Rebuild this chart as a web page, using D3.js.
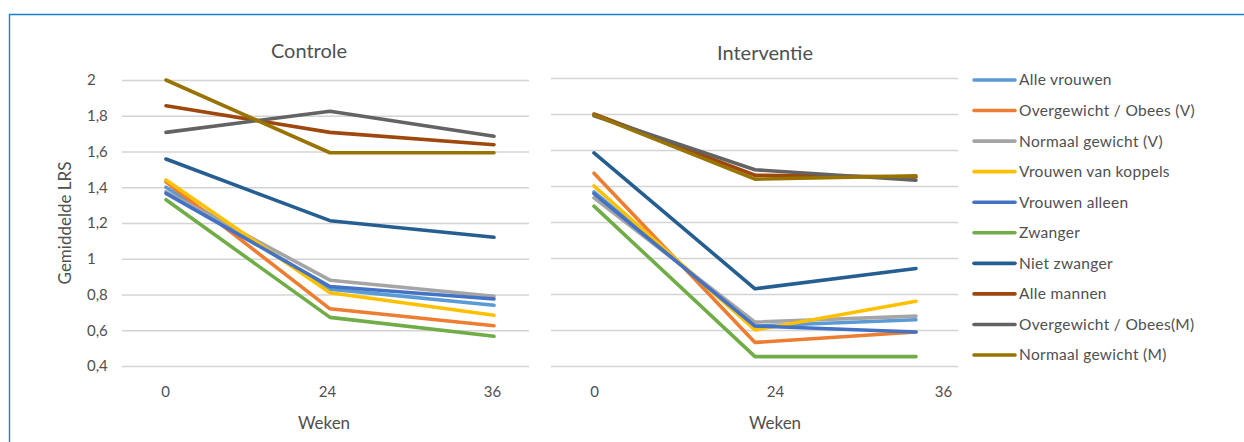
<!DOCTYPE html>
<html>
<head>
<meta charset="utf-8">
<script src="https://cdn.jsdelivr.net/npm/d3@7"></script>
<style>
  html, body { margin: 0; padding: 0; background: #fff; }
  svg { display: block; font-family: Lato, "Open Sans", sans-serif; }
</style>
</head>
<body>
<svg id="chart" width="1244" height="442"></svg>
<script>
// ---- data ----
const categories = ["0", "24", "36"];
const seriesNames = [
  "Alle vrouwen",
  "Overgewicht / Obees (V)",
  "Normaal gewicht (V)",
  "Vrouwen van koppels",
  "Vrouwen alleen",
  "Zwanger",
  "Niet zwanger",
  "Alle mannen",
  "Overgewicht / Obees(M)",
  "Normaal gewicht (M)"
];
const seriesColors = ["#5B9BD5", "#ED7D31", "#A5A5A5", "#FFC000", "#4472C4",
                      "#70AD47", "#255E91", "#9E480E", "#636363", "#997300"];
const controleValues = [
  [1.40, 0.83, 0.74],
  [1.43, 0.72, 0.625],
  [1.375, 0.88, 0.79],
  [1.44, 0.81, 0.684],
  [1.366, 0.845, 0.775],
  [1.33, 0.672, 0.566],
  [1.558, 1.213, 1.12],
  [1.856, 1.707, 1.638],
  [1.707, 1.825, 1.685],
  [2.0, 1.593, 1.593]
];
const interventieValues = [
  [1.367, 0.622, 0.657],
  [1.471, 0.531, 0.589],
  [1.334, 0.644, 0.677],
  [1.40, 0.60, 0.76],
  [1.358, 0.622, 0.589],
  [1.288, 0.452, 0.452],
  [1.584, 0.829, 0.942],
  [1.80, 1.46, 1.45],
  [1.79, 1.49, 1.432],
  [1.795, 1.438, 1.456]
];
const yTickValues = [0.4, 0.6, 0.8, 1.0, 1.2, 1.4, 1.6, 1.8, 2.0];
const yTickLabels = ["0,4", "0,6", "0,8", "1", "1,2", "1,4", "1,6", "1,8", "2"];
const panelTitles = ["Controle", "Interventie"];
const xAxisTitle = "Weken";
const yAxisTitle = "Gemiddelde LRS";

// ---- layout ----
const svg = d3.select("#chart");
const textColor = "#505050";

// frame
svg.append("path")
  .attr("d", "M9.5,442 V14.5 H1244")
  .attr("fill", "none")
  .attr("stroke", "#1A7FD1")
  .attr("stroke-width", 1.4);

const panels = [
  { title: panelTitles[0], values: controleValues,
    gx: [122, 529], px: [166, 494], yr: [366, 80], labelX: [165, 327, 492],
    titleX: 309, titleY: 58, wekenX: 324 },
  { title: panelTitles[1], values: interventieValues,
    gx: [551, 958], px: [594, 916], yr: [366, 78], labelX: [594, 775, 943],
    titleX: 765, titleY: 60, wekenX: 775 }
];

const line = (x, y) => d3.line().x((d, i) => x(categories[i])).y(d => y(d));

panels.forEach((p, pi) => {
  const y = d3.scaleLinear().domain([0.4, 2.0]).range(p.yr);
  const x = d3.scalePoint().domain(categories).range(p.px);
  const xLab = d3.scaleOrdinal().domain(categories).range(p.labelX);

  // gridlines
  const grid = svg.append("g")
    .attr("transform", `translate(${p.gx[0]},0)`)
    .call(d3.axisRight(y).tickValues(yTickValues).tickSize(p.gx[1] - p.gx[0]).tickFormat(""));
  grid.select(".domain").remove();
  grid.selectAll("line").attr("stroke", "#D4D4D4").attr("stroke-width", 1.6);

  // y tick labels (left panel only)
  if (pi === 0) {
    const ya = svg.append("g")
      .attr("transform", "translate(87,0)")
      .call(d3.axisLeft(y).tickValues(yTickValues).tickSize(0).tickPadding(0)
        .tickFormat((d, i) => yTickLabels[i]));
    ya.select(".domain").remove();
    ya.selectAll("text")
      .attr("x", 0)
      .attr("text-anchor", "start")
      .attr("fill", textColor)
      .style("font-size", "15px")
      .style("font-family", "Lato, sans-serif");
  }

  // x tick labels
  const xa = svg.append("g")
    .attr("transform", "translate(0,386)")
    .call(d3.axisBottom(xLab).tickSize(0).tickPadding(0));
  xa.select(".domain").remove();
  xa.selectAll("text")
    .attr("dy", "0.71em")
    .attr("fill", textColor)
    .style("font-size", "15px")
    .style("font-family", "Lato, sans-serif");

  // series lines
  const gl = svg.append("g");
  p.values.forEach((vals, si) => {
    gl.append("path")
      .datum(vals)
      .attr("d", line(x, y))
      .attr("fill", "none")
      .attr("stroke", seriesColors[si])
      .attr("stroke-width", 3.6)
      .attr("stroke-linejoin", "round")
      .attr("stroke-linecap", "round");
  });

  // title
  svg.append("text")
    .attr("x", p.titleX).attr("y", p.titleY)
    .attr("text-anchor", "middle")
    .attr("fill", textColor)
    .style("font-size", "20px")
    .text(p.title);

  // x axis title
  svg.append("text")
    .attr("x", p.wekenX).attr("y", 429)
    .attr("text-anchor", "middle")
    .attr("fill", textColor)
    .style("font-size", "17px")
    .text(xAxisTitle);
});

// y axis title
svg.append("text")
  .attr("transform", "translate(71,223) rotate(-90)")
  .attr("text-anchor", "middle")
  .attr("fill", textColor)
  .style("font-size", "17px")
  .text(yAxisTitle);

// legend
const legendY = d3.scalePoint().domain(seriesNames).range([80, 355]);
const lg = svg.append("g");
seriesNames.forEach((name, i) => {
  const yy = legendY(name);
  lg.append("line")
    .attr("x1", 974).attr("x2", 1015)
    .attr("y1", yy).attr("y2", yy)
    .attr("stroke", seriesColors[i])
    .attr("stroke-width", 3.6)
    .attr("stroke-linecap", "round");
  lg.append("text")
    .attr("x", 1019).attr("y", yy)
    .attr("dy", "0.35em")
    .attr("fill", textColor)
    .style("font-size", "15.5px")
    .style("letter-spacing", "0.3px")
    .text(name);
});
</script>
</body>
</html>
